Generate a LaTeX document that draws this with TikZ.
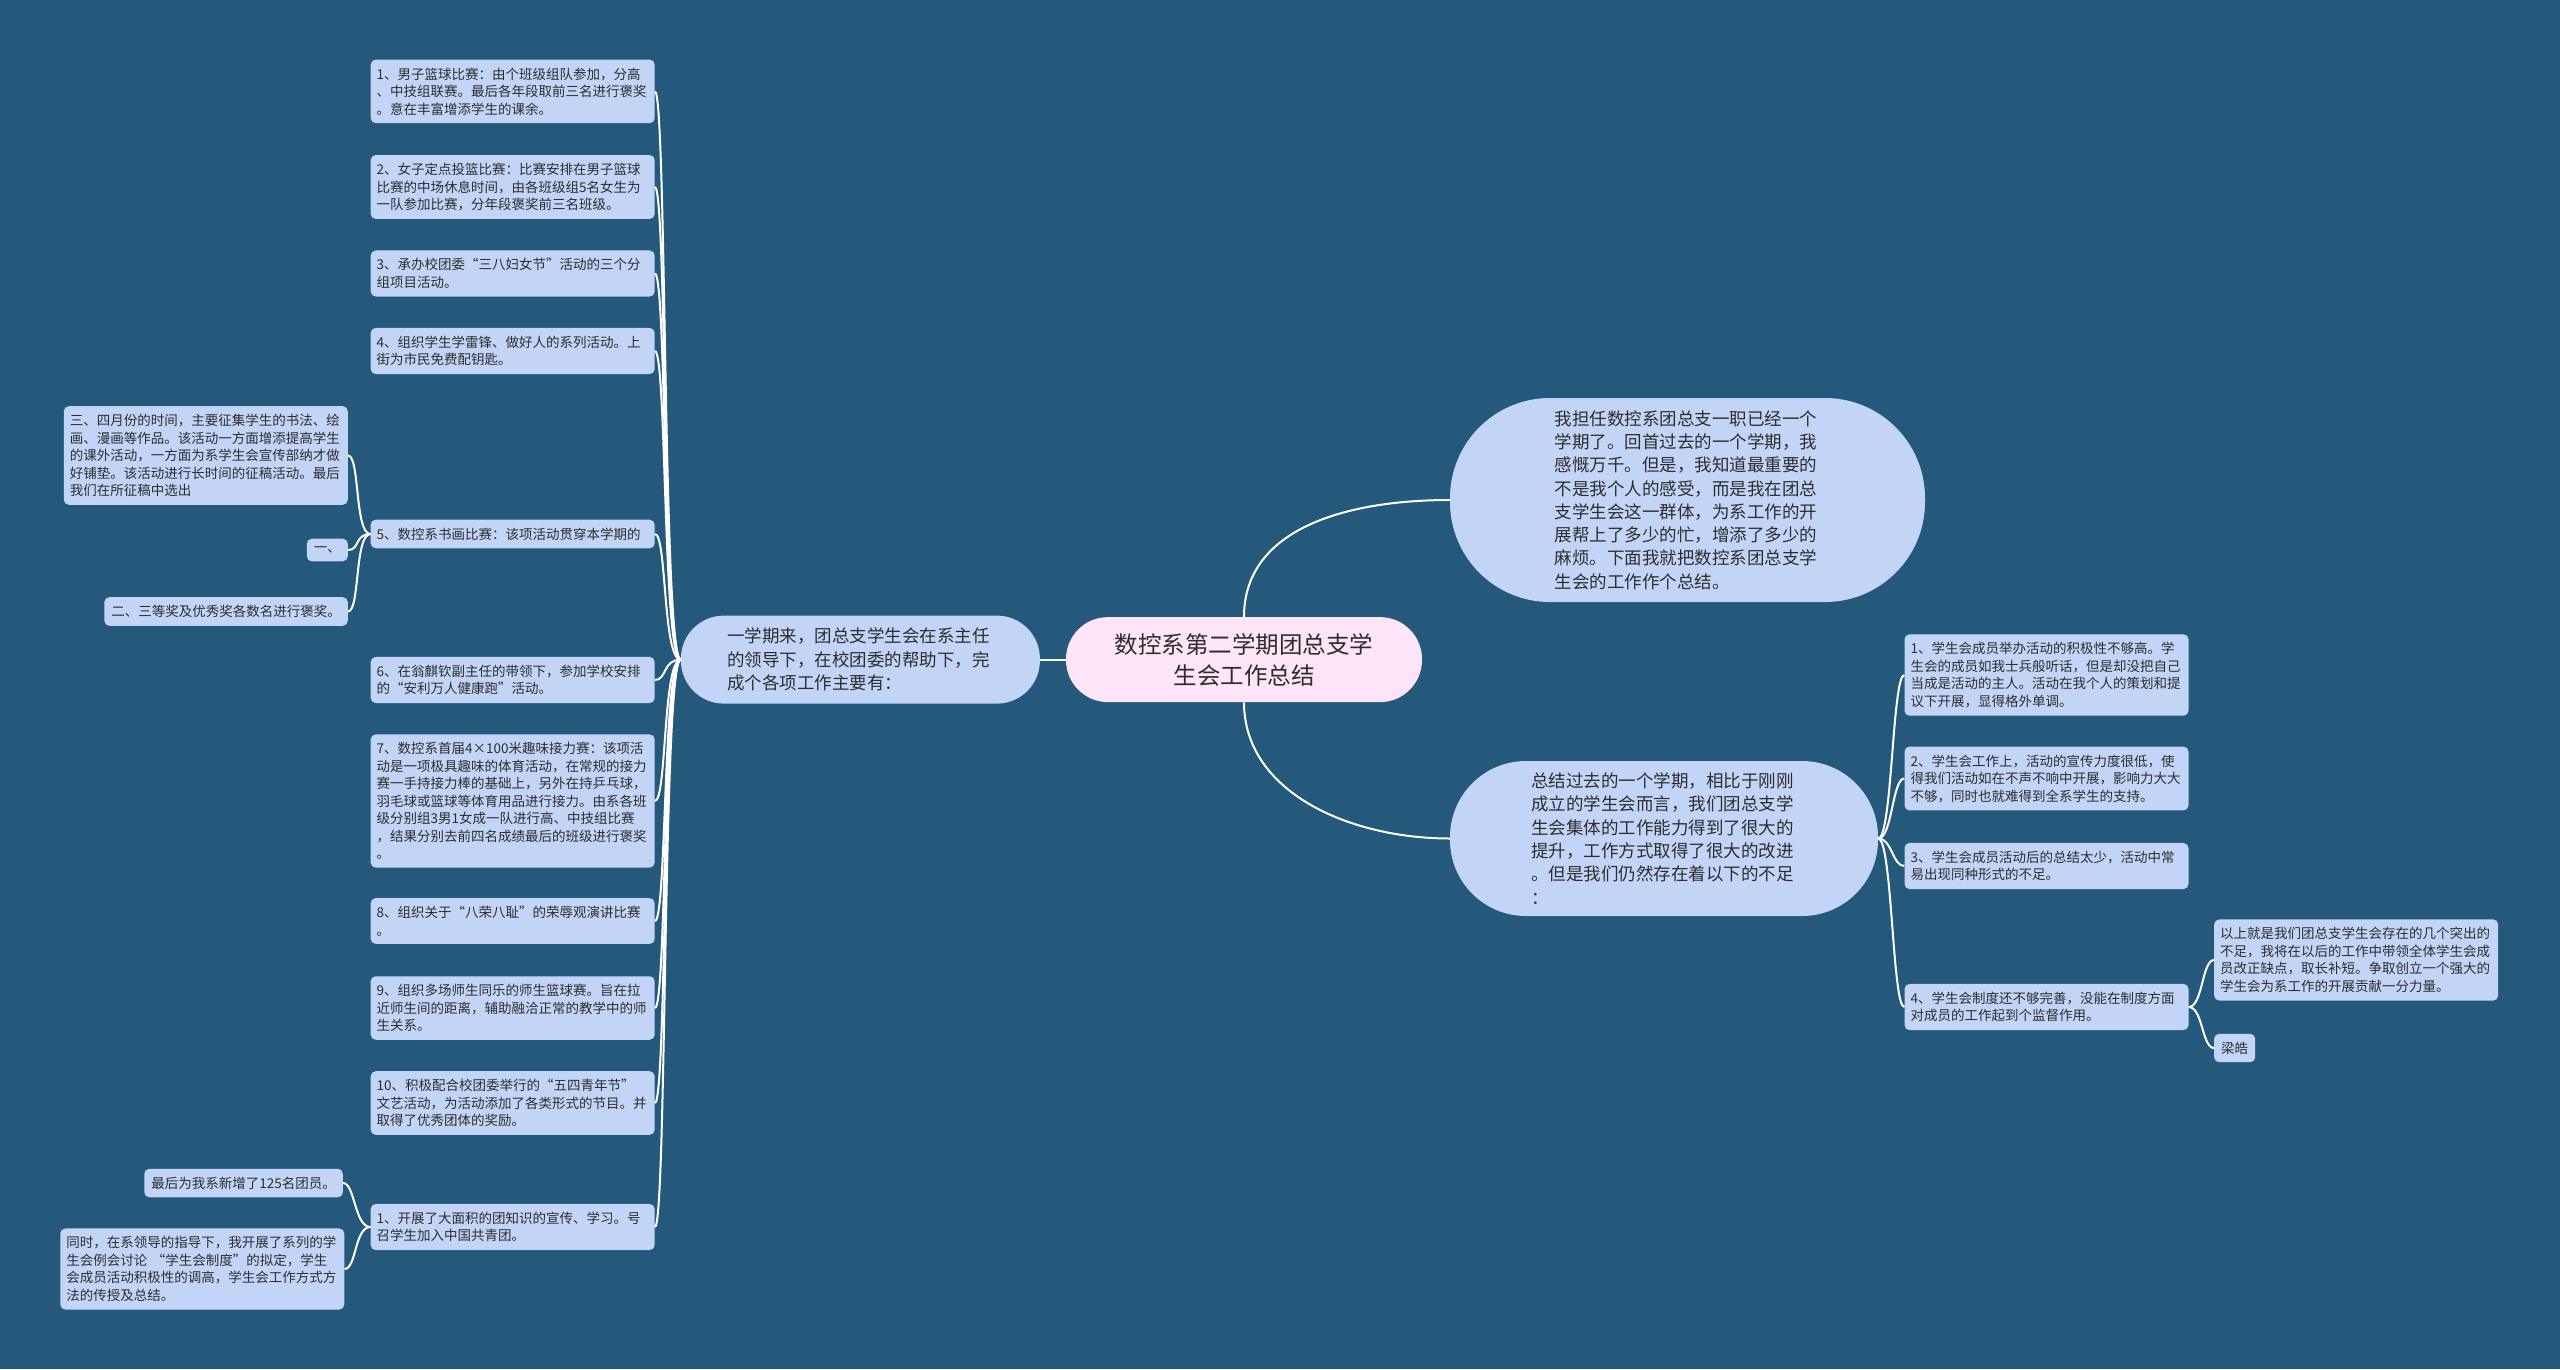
\documentclass[tikz,border=0pt]{standalone}
\usepackage{fontspec}
\usepackage{xcolor}
\usepackage{tikz}
\newfontfamily\cjk{Noto Sans CJK SC}
\definecolor{mybg}{RGB}{36,89,124}
\definecolor{myleaf}{RGB}{195,213,247}
\definecolor{myroot}{RGB}{254,228,247}
\definecolor{mytext}{RGB}{45,45,45}
\tikzset{
  leaf/.style={rectangle, fill=myleaf, text=mytext,
    text width=272pt, align=left, inner xsep=6pt, inner ysep=8pt,
    rounded corners=5pt, font=\cjk\fontsize{13.5pt}{17.5pt}\selectfont},
  tag/.style={rectangle, fill=myleaf, text=mytext,
    inner xsep=7pt, inner ysep=8pt,
    rounded corners=5pt, font=\cjk\fontsize{13.5pt}{17.5pt}\selectfont},
  branch/.style={rectangle, fill=myleaf, text=mytext,
    text width=266pt, align=left, inner sep=0pt,
    font=\cjk\fontsize{17.5pt}{23.3pt}\selectfont},
  rootnode/.style={rectangle, fill=myroot, text=mytext,
    align=center, inner sep=0pt, minimum width=356pt, minimum height=85pt,
    rounded corners=42pt, font=\cjk\fontsize{23.5pt}{31pt}\selectfont},
  link/.style={draw=white, line width=2pt}
}
\begin{document}
\begin{tikzpicture}[x=1pt, y=-1pt]
  % Background
  \fill[mybg] (0,0) rectangle (2560,1369);
  \useasboundingbox (0,0) rectangle (2560,1369);

  % Centre and main branches
  \node[rootnode] (root) at (1244,659.6) {数控系第二学期团总支学\\生会工作总结};
  \node[branch, minimum width=359pt, minimum height=88pt, rounded corners=43pt] (b1) at (860.4,659.6)
    {一学期来，团总支学生会在系主任\\的领导下，在校团委的帮助下，完\\成个各项工作主要有：};
  \node[branch, minimum width=475pt, minimum height=204pt, rounded corners=100pt] (b2) at (1687.5,500)
    {我担任数控系团总支一职已经一个\\学期了。回首过去的一个学期，我\\感慨万千。但是，我知道最重要的\\不是我个人的感受，而是我在团总\\支学生会这一群体，为系工作的开\\展帮上了多少的忙，增添了多少的\\麻烦。下面我就把数控系团总支学\\生会的工作作个总结。};
  \node[branch, minimum width=428pt, minimum height=155pt, rounded corners=76pt] (b3) at (1664,838.5)
    {总结过去的一个学期，相比于刚刚\\成立的学生会而言，我们团总支学\\生会集体的工作能力得到了很大的\\提升，工作方式取得了很大的改进\\。但是我们仍然存在着以下的不足\\：};

  % Left leaves
  \node[leaf] (l1) at (512.7,91.4) {1、男子篮球比赛：由个班级组队参加，分高\\、中技组联赛。最后各年段取前三名进行褒奖\\。意在丰富增添学生的课余。};
  \node[leaf] (l2) at (512.7,187) {2、女子定点投篮比赛：比赛安排在男子篮球\\比赛的中场休息时间，由各班级组5名女生为\\一队参加比赛，分年段褒奖前三名班级。};
  \node[leaf] (l3) at (512.7,273.5) {3、承办校团委“三八妇女节”活动的三个分\\组项目活动。};
  \node[leaf] (l4) at (512.7,351) {4、组织学生学雷锋、做好人的系列活动。上\\街为市民免费配钥匙。};
  \node[leaf] (l5) at (512.7,534) {5、数控系书画比赛：该项活动贯穿本学期的};
  \node[leaf] (l6) at (512.7,680) {6、在翁麒钦副主任的带领下，参加学校安排\\的“安利万人健康跑”活动。};
  \node[leaf] (l7) at (512.7,801) {7、数控系首届4×100米趣味接力赛：该项活\\动是一项极具趣味的体育活动，在常规的接力\\赛一手持接力棒的基础上，另外在持乒乓球，\\羽毛球或篮球等体育用品进行接力。由系各班\\级分别组3男1女成一队进行高、中技组比赛\\，结果分别去前四名成绩最后的班级进行褒奖\\。};
  \node[leaf] (l8) at (512.7,921) {8、组织关于“八荣八耻”的荣辱观演讲比赛\\。};
  \node[leaf] (l9) at (512.7,1008) {9、组织多场师生同乐的师生篮球赛。旨在拉\\近师生间的距离，辅助融洽正常的教学中的师\\生关系。};
  \node[leaf] (l10) at (512.7,1103) {10、积极配合校团委举行的“五四青年节”\\文艺活动，为活动添加了各类形式的节目。并\\取得了优秀团体的奖励。};
  \node[leaf] (l11) at (512.7,1227) {1、开展了大面积的团知识的宣传、学习。号\\召学生加入中国共青团。};

  % Sub leaves on the far left
  \node[leaf, anchor=east] (s5a) at (348,455.5) {三、四月份的时间，主要征集学生的书法、绘\\画、漫画等作品。该活动一方面增添提高学生\\的课外活动，一方面为系学生会宣传部纳才做\\好铺垫。该活动进行长时间的征稿活动。最后\\我们在所征稿中选出};
  \node[tag, anchor=east] (s5b) at (348,550) {一、};
  \node[tag, anchor=east] (s5c) at (348,611.5) {二、三等奖及优秀奖各数名进行褒奖。};
  \node[tag, anchor=east] (s11a) at (343,1183) {最后为我系新增了125名团员。};
  \node[leaf, anchor=east] (s11b) at (344.5,1269) {同时，在系领导的指导下，我开展了系列的学\\生会例会讨论~“学生会制度”的拟定，学生\\会成员活动积极性的调高，学生会工作方式方\\法的传授及总结。};

  % Right leaves
  \node[leaf] (r1) at (2046.5,675) {1、学生会成员举办活动的积极性不够高。学\\生会的成员如我士兵般听话，但是却没把自己\\当成是活动的主人。活动在我个人的策划和提\\议下开展，显得格外单调。};
  \node[leaf] (r2) at (2046.5,778.5) {2、学生会工作上，活动的宣传力度很低，使\\得我们活动如在不声不响中开展，影响力大大\\不够，同时也就难得到全系学生的支持。};
  \node[leaf] (r3) at (2046.5,866) {3、学生会成员活动后的总结太少，活动中常\\易出现同种形式的不足。};
  \node[leaf] (r4) at (2046.5,1007) {4、学生会制度还不够完善，没能在制度方面\\对成员的工作起到个监督作用。};
  \node[leaf, anchor=west] (r4a) at (2214,960) {以上就是我们团总支学生会存在的几个突出的\\不足，我将在以后的工作中带领全体学生会成\\员改正缺点，取长补短。争取创立一个强大的\\学生会为系工作的开展贡献一分力量。};
  \node[tag, anchor=west] (r4b) at (2214,1048) {梁皓};

  % Links from the centre
  \draw[link] (root.west) -- (b1.east);
  \draw[link] (root.north) .. controls +(0,-90) and +(-100,0) .. (b2.west);
  \draw[link] (root.south) .. controls +(0,90) and +(-100,0) .. (b3.west);

  % Links on the left
  \draw[link] (b1.west) .. controls +(-18,0) and +(12,0) .. (l1.east);
  \draw[link] (b1.west) .. controls +(-18,0) and +(12,0) .. (l2.east);
  \draw[link] (b1.west) .. controls +(-18,0) and +(12,0) .. (l3.east);
  \draw[link] (b1.west) .. controls +(-18,0) and +(12,0) .. (l4.east);
  \draw[link] (b1.west) .. controls +(-18,0) and +(12,0) .. (l5.east);
  \draw[link] (b1.west) .. controls +(-18,0) and +(12,0) .. (l6.east);
  \draw[link] (b1.west) .. controls +(-18,0) and +(12,0) .. (l7.east);
  \draw[link] (b1.west) .. controls +(-18,0) and +(12,0) .. (l8.east);
  \draw[link] (b1.west) .. controls +(-18,0) and +(12,0) .. (l9.east);
  \draw[link] (b1.west) .. controls +(-18,0) and +(12,0) .. (l10.east);
  \draw[link] (b1.west) .. controls +(-18,0) and +(12,0) .. (l11.east);
  \draw[link] (l5.west) .. controls +(-16,0) and +(12,0) .. (s5a.east);
  \draw[link] (l5.west) .. controls +(-16,0) and +(12,0) .. (s5b.east);
  \draw[link] (l5.west) .. controls +(-16,0) and +(12,0) .. (s5c.east);
  \draw[link] (l11.west) .. controls +(-16,0) and +(12,0) .. (s11a.east);
  \draw[link] (l11.west) .. controls +(-16,0) and +(12,0) .. (s11b.east);

  % Links on the right
  \draw[link] (b3.east) .. controls +(14,0) and +(-12,0) .. (r1.west);
  \draw[link] (b3.east) .. controls +(14,0) and +(-12,0) .. (r2.west);
  \draw[link] (b3.east) .. controls +(14,0) and +(-12,0) .. (r3.west);
  \draw[link] (b3.east) .. controls +(14,0) and +(-12,0) .. (r4.west);
  \draw[link] (r4.east) .. controls +(14,0) and +(-12,0) .. (r4a.west);
  \draw[link] (r4.east) .. controls +(14,0) and +(-12,0) .. (r4b.west);
\end{tikzpicture}
\end{document}
